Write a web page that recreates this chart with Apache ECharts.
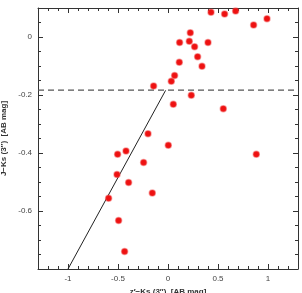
<!DOCTYPE html>
<html>
<head>
<meta charset="utf-8">
<script src="https://cdn.jsdelivr.net/npm/echarts@6/dist/echarts.min.js"></script>
<style>
html, body { margin: 0; padding: 0; background: #fff; }
#chart { width: 302px; height: 293px; }
</style>
</head>
<body>
<div id="chart"></div>
<script>
// colour points, z'-Ks vs J-Ks
var colorX = [0.43, 0.566, 0.676, 0.856, 0.99, 0.223, 0.116, 0.213, 0.266, 0.40,
	0.296, 0.113, 0.34, 0.066, 0.033, 0.233, 0.053, 0.553, 0.003, -0.144,
	-0.2, 0.883, -0.157, -0.504, -0.42, -0.244, -0.51, -0.394, -0.594, -0.494, -0.434]
var colorY = [0.085, 0.079, 0.090, 0.041, 0.063, 0.015, -0.019, -0.015, -0.034, -0.019,
	-0.068, -0.087, -0.101, -0.133, -0.153, -0.201, -0.232, -0.247, -0.373, -0.169,
	-0.334, -0.404, -0.538, -0.404, -0.393, -0.433, -0.474, -0.502, -0.556, -0.633, -0.74]

// selection lines
var slantX = [-1.0, -0.024]
var slantY = [-0.80, -0.184]
var cutX = [-1.3, 1.3]
var cutY = [-0.183, -0.183]

// ticks
var xLabels = [-1, -0.5, 0, 0.5, 1]
var xMinor = [-1.2, -1.1, -0.9, -0.8, -0.7, -0.6, -0.4, -0.3, -0.2, -0.1,
	0.1, 0.2, 0.3, 0.4, 0.6, 0.7, 0.8, 0.9, 1.1, 1.2]
var yLabels = [0, -0.2, -0.4, -0.6]
var yMinor = [0.05, -0.05, -0.1, -0.15, -0.25, -0.3, -0.35, -0.45, -0.5, -0.55,
	-0.65, -0.7, -0.75]

var X_MIN = -1.3, X_MAX = 1.3, Y_MIN = -0.8, Y_MAX = 0.1
var frame = '#333'

function xAxisCfg(pos, ticks, len, labels, line) {
	return {
		type: 'value', position: pos, min: X_MIN, max: X_MAX,
		splitLine: { show: false },
		axisLine: { show: line, onZero: false, lineStyle: { color: frame, width: 1 } },
		axisTick: { show: true, inside: true, length: len, customValues: ticks,
			lineStyle: { color: frame, width: 1 } },
		axisLabel: labels ? { show: true, customValues: ticks, margin: 6,
			fontSize: 8, color: '#444', fontFamily: 'Liberation Sans' } : { show: false },
	}
}
function yAxisCfg(pos, ticks, len, labels, line) {
	return {
		type: 'value', position: pos, min: Y_MIN, max: Y_MAX,
		splitLine: { show: false },
		axisLine: { show: line, onZero: false, lineStyle: { color: frame, width: 1 } },
		axisTick: { show: true, inside: true, length: len, customValues: ticks,
			lineStyle: { color: frame, width: 1 } },
		axisLabel: labels ? { show: true, customValues: ticks, margin: 6,
			fontSize: 8, color: '#444', fontFamily: 'Liberation Sans' } : { show: false },
	}
}

var nameStyle = { fontSize: 8, fontWeight: 'bold', color: '#333', fontFamily: 'Liberation Sans' }

var xAxes = [
	xAxisCfg('bottom', xLabels, 5, true, true),
	xAxisCfg('bottom', xMinor, 3, false, false),
	xAxisCfg('top', xLabels, 5, false, true),
	xAxisCfg('top', xMinor, 3, false, false),
]
xAxes[0].name = 'z\u2032\u2212Ks (3\u2033)  [AB mag]'
xAxes[0].nameLocation = 'middle'
xAxes[0].nameGap = 15
xAxes[0].nameTextStyle = nameStyle

var yAxes = [
	yAxisCfg('left', yLabels, 5, true, true),
	yAxisCfg('left', yMinor, 3, false, false),
	yAxisCfg('right', yLabels, 5, false, true),
	yAxisCfg('right', yMinor, 3, false, false),
]
yAxes[0].name = 'J\u2212Ks (3\u2033)  [AB mag]'
yAxes[0].nameLocation = 'middle'
yAxes[0].nameGap = 25
yAxes[0].nameTextStyle = nameStyle

var chart = echarts.init(document.getElementById('chart'), null, { renderer: 'canvas' })
chart.setOption({
	animation: false,
	backgroundColor: '#fff',
	grid: { left: 38, right: 4, top: 8, bottom: 24, containLabel: false, outerBoundsMode: 'none' },
	xAxis: xAxes,
	yAxis: yAxes,
	series: [
		{
			type: 'line',
			data: cutX.map(function (x, i) { return [x, cutY[i]] }),
			symbol: 'none',
			lineStyle: { color: '#555', width: 1.3, type: [6, 4] },
			z: 2,
		},
		{
			type: 'line',
			data: slantX.map(function (x, i) { return [x, slantY[i]] }),
			symbol: 'none',
			lineStyle: { color: '#222', width: 1 },
			z: 2,
		},
		{
			type: 'scatter',
			data: colorX.map(function (x, i) { return [x, colorY[i]] }),
			symbolSize: 6,
			itemStyle: { color: '#ee1111', borderColor: 'rgba(240,60,60,0.45)', borderWidth: 1.5, opacity: 1 },
			z: 3,
		},
	],
})
</script>
</body>
</html>
